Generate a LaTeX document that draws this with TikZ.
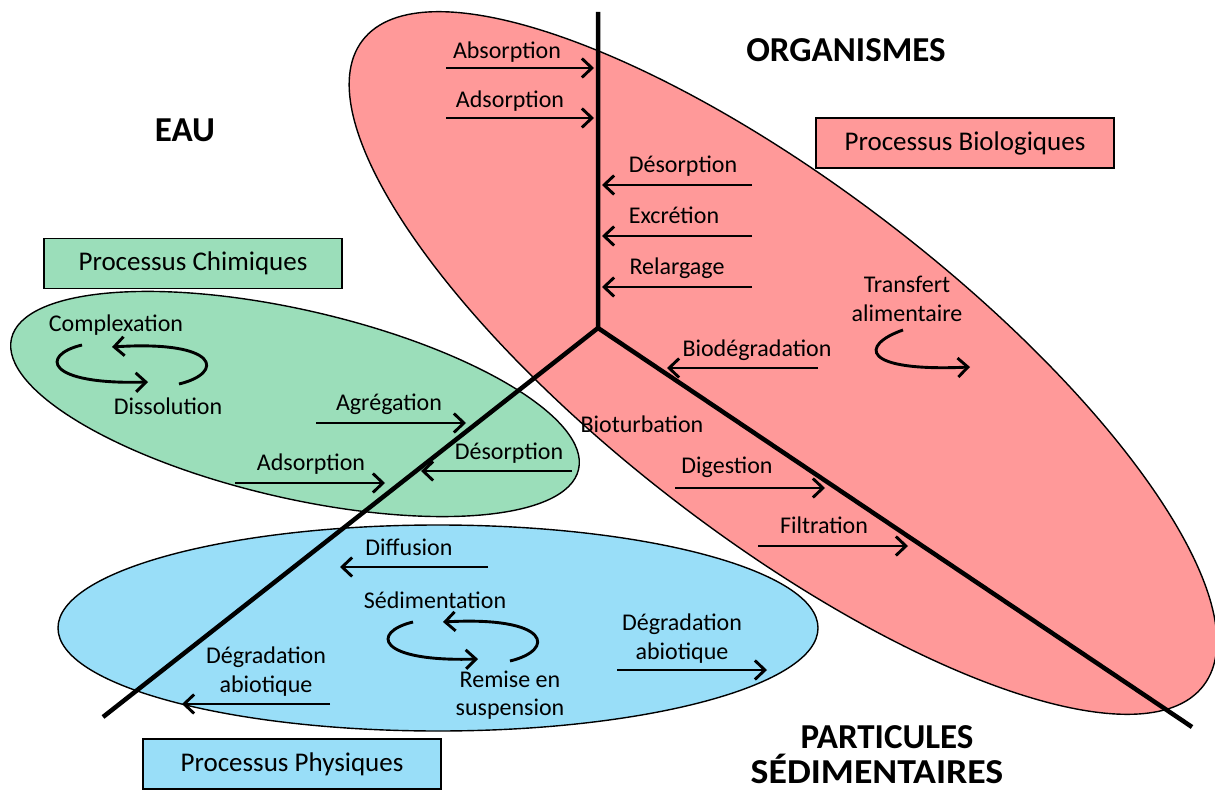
\documentclass[tikz,border=0pt]{standalone}
\usepackage{fontspec}
\setmainfont{Carlito}
\usetikzlibrary{arrows.meta}
\definecolor{orgred}{RGB}{255,153,153}
\definecolor{chemgreen}{RGB}{155,222,186}
\definecolor{physblue}{RGB}{153,222,248}
\begin{document}
\begin{tikzpicture}[x=1pt,y=-1pt,
  zone/.style={draw=black, line width=1.4pt},
  flow/.style={line width=2.9pt, -{Straight Barb[length=10pt,width=19pt]}},
  axisline/.style={line width=4.5pt, line join=miter},
  lbl/.style={font=\fontsize{24}{28}\selectfont, anchor=base, inner sep=0pt},
  heading/.style={font=\fontsize{35}{40}\selectfont\bfseries, anchor=base, inner sep=0pt},
  tag/.style={draw=black, line width=1.4pt, minimum width=298pt, minimum height=50pt,
              font=\fontsize{27}{30}\selectfont, inner sep=0pt}]
\useasboundingbox[fill=white] (0,0) rectangle (1215,791);

% compartments
\draw[zone, fill=orgred, rotate around={-37.5:(783,363)}] (783,363) ellipse [x radius=530pt, y radius=175pt];
\draw[zone, fill=physblue] (438,628) ellipse [x radius=380pt, y radius=103pt];
\draw[zone, fill=chemgreen, rotate around={-13:(295,404)}] (295,404) ellipse [x radius=291pt, y radius=94pt];

% process boxes
\node[tag, fill=orgred] (bio) at (965,143) {Processus Biologiques};
\node[tag, fill=chemgreen] (chem) at (193,263.5) {Processus Chimiques};
\node[tag, fill=physblue] (phys) at (292,764) {Processus Physiques};

% the three-way boundary
\coordinate (hub) at (598,328);
\coordinate (north) at (598,12);
\coordinate (sw) at (103,717);
\coordinate (se) at (1192,727);
\draw[axisline] (north) -- (hub) -- (se);
\draw[axisline] (hub) -- (sw);

% compartment headings
\node[heading] (org) at (846,62) {ORGANISMES};
\node[heading] (eau) at (185,142) {EAU};
\node[heading] (part1) at (887,748) {PARTICULES};
\node[heading, xscale=1.08] (part2) at (877,783) {SÉDIMENTAIRES};

% water <-> organisms
\coordinate (a1s) at (446,68);  \coordinate (a1e) at (594,68);
\coordinate (a2s) at (446,118); \coordinate (a2e) at (594,118);
\coordinate (a3s) at (752,185); \coordinate (a3e) at (602,185);
\coordinate (a4s) at (752,236); \coordinate (a4e) at (602,236);
\coordinate (a5s) at (752,287); \coordinate (a5e) at (602,287);
\draw[flow] (a1s) -- (a1e);
\draw[flow] (a2s) -- (a2e);
\draw[flow] (a3s) -- (a3e);
\draw[flow] (a4s) -- (a4e);
\draw[flow] (a5s) -- (a5e);
\node[lbl] (l1) at (507,59) {Absorption};
\node[lbl] (l2) at (510,108) {Adsorption};
\node[lbl] (l3) at (683,173) {Désorption};
\node[lbl] (l4) at (674,224) {Excrétion};
\node[lbl] (l5) at (677,275) {Relargage};

% organisms <-> particles
\coordinate (b1s) at (818,368); \coordinate (b1e) at (667,368);
\coordinate (b2s) at (675,488); \coordinate (b2e) at (825,488);
\coordinate (b3s) at (758,546); \coordinate (b3e) at (908,546);
\draw[flow] (b1s) -- (b1e);
\draw[flow] (b2s) -- (b2e);
\draw[flow] (b3s) -- (b3e);
\node[lbl] (m1) at (757,356) {Biodégradation};
\node[lbl] (m2) at (642,432) {Bioturbation};
\node[lbl] (m3) at (727,473) {Digestion};
\node[lbl] (m4) at (824,533) {Filtration};

% food transfer loop
\coordinate (ts) at (903,330); \coordinate (te) at (970,367);
\draw[flow] (ts) .. controls (860,345) and (860,372) .. (te);
\node[lbl] (t1) at (907,293) {Transfert};
\node[lbl] (t2) at (907,322) {alimentaire};

% water <-> particles
\coordinate (c1s) at (316,423); \coordinate (c1e) at (466,423);
\coordinate (c2s) at (572,471); \coordinate (c2e) at (421,471);
\coordinate (c3s) at (235,483); \coordinate (c3e) at (385,483);
\draw[flow] (c1s) -- (c1e);
\draw[flow] (c2s) -- (c2e);
\draw[flow] (c3s) -- (c3e);
\node[lbl] (n1) at (389,410) {Agrégation};
\node[lbl] (n2) at (509,459) {Désorption};
\node[lbl] (n3) at (311,470) {Adsorption};

% complexation / dissolution cycle
\coordinate (k1s) at (179,384); \coordinate (k1e) at (112,347);
\coordinate (k2s) at (82,345);  \coordinate (k2e) at (148,382);
\draw[flow] (k1s) .. controls (225,373) and (220,340) .. (k1e);
\draw[flow] (k2s) .. controls (40,355) and (45,385) .. (k2e);
\node[lbl] (k1) at (116,332) {Complexation};
\node[lbl] (k2) at (168,414) {Dissolution};

% physical processes
\coordinate (d1s) at (488,567); \coordinate (d1e) at (340,567);
\coordinate (d2s) at (330,704); \coordinate (d2e) at (182,704);
\coordinate (d3s) at (617,670); \coordinate (d3e) at (767,670);
\draw[flow] (d1s) -- (d1e);
\draw[flow] (d2s) -- (d2e);
\draw[flow] (d3s) -- (d3e);
\node[lbl] (p1) at (409,555) {Diffusion};
\node[lbl] (p2) at (266,663) {Dégradation};
\node[lbl] (p3) at (266,692) {abiotique};
\node[lbl] (p4) at (682,630) {Dégradation};
\node[lbl] (p5) at (682,659) {abiotique};

% sedimentation / resuspension cycle
\coordinate (s1s) at (510,661); \coordinate (s1e) at (443,622);
\coordinate (s2s) at (413,622); \coordinate (s2e) at (478,659);
\draw[flow] (s1s) .. controls (556,650) and (551,616) .. (s1e);
\draw[flow] (s2s) .. controls (371,632) and (376,662) .. (s2e);
\node[lbl] (s1) at (435,608) {Sédimentation};
\node[lbl] (s2) at (510,687) {Remise en};
\node[lbl] (s3) at (510,715) {suspension};
\end{tikzpicture}
\end{document}
